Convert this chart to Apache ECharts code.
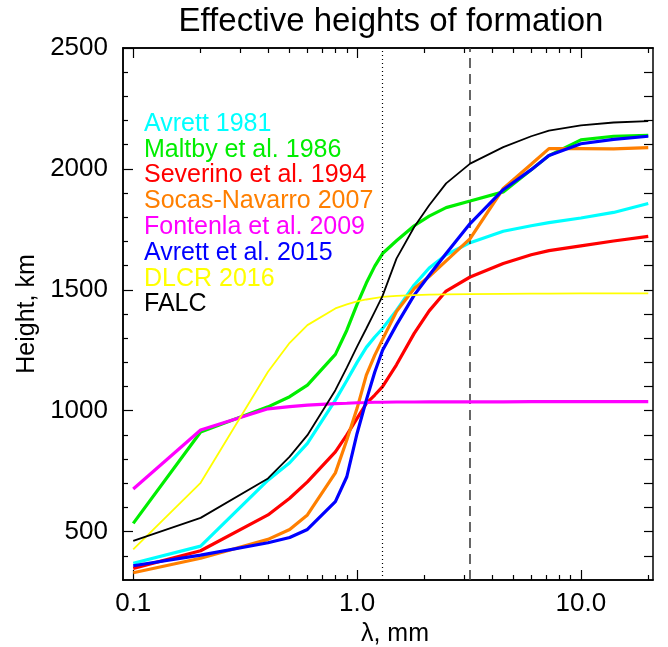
<!DOCTYPE html>
<html>
<head>
<meta charset="utf-8">
<script src="https://cdn.jsdelivr.net/npm/echarts@6/dist/echarts.min.js"></script>
<style>html,body{margin:0;padding:0;background:#fff}#c{width:668px;height:647px}</style>
</head>
<body>
<div id="c"></div>
<script>
// wavelength samples (mm)
const lam = [0.1,0.2,0.4,0.5,0.6,0.8,0.9,1.0,1.1,1.2,1.3,1.5,1.8,2.1,2.5,3.2,4.5,6,7.2,10,14,20];
const avrett1981 = [369,440,713,785,865,1044,1125,1200,1262,1305,1340,1415,1520,1590,1645,1695,1742,1765,1778,1797,1820,1857];
const maltby1986 = [534,912,1016,1058,1106,1233,1333,1440,1528,1598,1650,1703,1765,1805,1840,1867,1905,1997,2055,2120,2135,2139];
const severino1994 = [348,421,569,638,706,830,900,968,1030,1065,1100,1190,1320,1413,1495,1553,1609,1645,1662,1682,1702,1721];
const socas2007 = [330,390,468,509,569,743,879,1010,1147,1230,1295,1410,1505,1555,1620,1712,1919,2019,2084,2084,2083,2088];
const fontenla2009 = [676,920,1008,1017,1023,1029,1031,1033,1034,1035,1035,1036,1036,1037,1037,1037,1037,1038,1038,1038,1038,1038];
const avrett2015 = [359,403,454,476,509,624,727,906,1044,1160,1250,1355,1478,1560,1650,1774,1914,1997,2055,2104,2122,2135];
const dlcr2016 = [427,702,1161,1281,1354,1423,1440,1452,1460,1466,1471,1475,1478,1480,1481,1482,1483,1484,1484,1485,1485,1485];
const falc = [462,557,720,810,899,1085,1178,1265,1340,1410,1475,1629,1760,1850,1940,2022,2090,2135,2158,2180,2192,2198];

const seriesNames = ['Avrett 1981','Maltby et al. 1986','Severino et al. 1994','Socas-Navarro 2007','Fontenla et al. 2009','Avrett et al. 2015','DLCR 2016','FALC'];
const seriesColors = ['#00FFFF','#00EE00','#FF0000','#FF7F00','#FF00FF','#0000FF','#FFFF00','#000000'];
const seriesValues = [avrett1981, maltby1986, severino1994, socas2007, fontenla2009, avrett2015, dlcr2016, falc];

const xMajorTicks = [0.1, 1, 10];
const xMinorTicks = [0.2,0.3,0.4,0.5,0.6,0.7,0.8,0.9,2,3,4,5,6,7,8,9,20];
const yMajorTicks = [500,1000,1500,2000,2500];
const yMinorTicks = [400,600,700,800,900,1100,1200,1300,1400,1600,1700,1800,1900,2100,2200,2300,2400];
const yAllTicks = [400,500,600,700,800,900,1000,1100,1200,1300,1400,1500,1600,1700,1800,1900,2000,2100,2200,2300,2400];
const dottedLineX = 1.3;
const dashedLineX = 3.2;

const FONT = 'Liberation Sans, Arial, Helvetica, sans-serif';
const chart = echarts.init(document.getElementById('c'), null, {renderer: 'canvas'});

function xAx(pos, major, showLabel) {
  return {
    type: 'log', logBase: 10, min: 0.09, max: 21, position: pos,
    axisLine: {show: true, lineStyle: {color: '#000', width: 1.5}},
    axisTick: {show: true, inside: true, length: major ? 10 : 5, lineStyle: {color: '#000', width: 1.2},
               customValues: major ? xMajorTicks : xMinorTicks},
    axisLabel: {show: showLabel, customValues: xMajorTicks, fontFamily: FONT, fontSize: 26, color: '#000', margin: 11,
                formatter: v => Number(v).toFixed(1)},
    splitLine: {show: false}, minorTick: {show: false},
    name: showLabel ? 'λ, mm' : '', nameLocation: 'middle', nameGap: 40,
    nameTextStyle: {fontFamily: FONT, fontSize: 25, color: '#000', padding: [0, 0, 0, 14]}
  };
}
function yAx(pos, ticks, len, showLabel) {
  return {
    type: 'value', min: 300, max: 2500, position: pos,
    axisLine: {show: true, lineStyle: {color: '#000', width: 1.5}},
    axisTick: {show: true, inside: true, length: len, lineStyle: {color: '#000', width: 1.2}, customValues: ticks},
    axisLabel: {show: showLabel, customValues: yMajorTicks, fontFamily: FONT, fontSize: 26, color: '#000', margin: 15,
                padding: [9, 0, 0, 0], formatter: v => String(v)},
    splitLine: {show: false},
    name: showLabel ? 'Height, km' : '', nameLocation: 'middle', nameGap: 83,
    nameTextStyle: {fontFamily: FONT, fontSize: 25, color: '#000'}
  };
}

const series = seriesNames.map((name, i) => ({
  name: name, type: 'line', xAxisIndex: 0, yAxisIndex: 0,
  data: lam.map((l, j) => [l, seriesValues[i][j]]),
  showSymbol: false, symbol: 'none', smooth: false,
  lineStyle: {color: seriesColors[i], width: (name === 'FALC' || name === 'DLCR 2016') ? 1.8 : 3.2},
  itemStyle: {color: seriesColors[i]},
  z: 2 + i
}));
series[0].markLine = {
  silent: true, symbol: ['none', 'none'], label: {show: false}, animation: false,
  data: [
    {xAxis: dottedLineX, lineStyle: {color: '#000', type: [1, 3], width: 1.2}},
    {xAxis: dashedLineX, lineStyle: {color: '#404040', type: [10, 6], width: 1.6}}
  ]
};

chart.setOption({
  animation: false,
  backgroundColor: '#fff',
  title: {text: 'Effective heights of formation', left: 386, top: 0, textAlign: 'center',
          textStyle: {fontFamily: FONT, fontSize: 33, fontWeight: 'normal', color: '#000'}},
  grid: {left: 123, right: 15, top: 48, bottom: 67, containLabel: false, outerBoundsMode: 'none'},
  legend: {
    orient: 'vertical', left: 134, top: 106, icon: 'none', itemWidth: 0, itemHeight: 0, itemGap: 0,
    selectedMode: false,
    textStyle: {fontFamily: FONT, fontSize: 25, lineHeight: 25.8},
    data: seriesNames.map((n, i) => ({name: n, textStyle: {color: seriesColors[i]}}))
  },
  xAxis: [xAx('bottom', true, true), xAx('bottom', false, false), xAx('top', true, false), xAx('top', false, false)],
  yAxis: [yAx('left', yMajorTicks, 10, true), yAx('left', yMinorTicks, 5, false), yAx('right', yAllTicks, 9, false)],
  series: series
});
</script>
</body>
</html>
